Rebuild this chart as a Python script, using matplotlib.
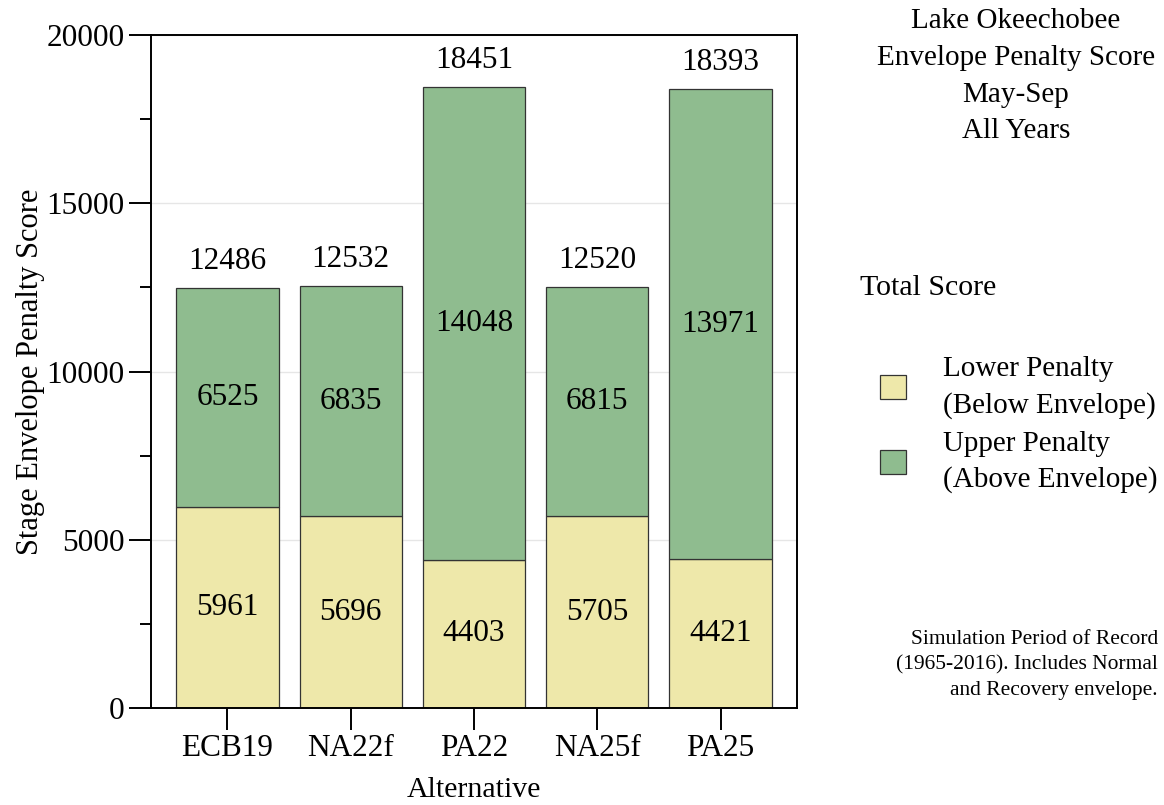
import numpy as np
import matplotlib
matplotlib.use("Agg")
from matplotlib import pyplot as plt
from matplotlib.patches import Patch
from matplotlib.ticker import MultipleLocator

alternatives = ["ECB19", "NA22f", "PA22", "NA25f", "PA25"]
lower_penalty = [5961, 5696, 4403, 5705, 4421]
upper_penalty = [6525, 6835, 14048, 6815, 13971]
totals = [12486, 12532, 18451, 12520, 18393]

yellow = "#EEE8AA"
green = "#8FBC8F"

plt.rcParams["font.family"] = ["Liberation Serif", "DejaVu Serif"]

fig = plt.figure(figsize=(11.64, 8.05), dpi=100)
ax = fig.add_axes([151 / 1164, 1 - 708 / 805, 646 / 1164, 673 / 805])

x = np.arange(len(alternatives))
ax.bar(x, lower_penalty, width=0.83, color=yellow, edgecolor="#333333", linewidth=0.9, zorder=2)
ax.bar(x, upper_penalty, width=0.83, bottom=lower_penalty, color=green,
       edgecolor="#333333", linewidth=0.9, zorder=2)

for i in range(len(x)):
    ax.text(x[i], lower_penalty[i] / 2, str(lower_penalty[i]), ha="center", va="center", fontsize=22.5, zorder=3)
    ax.text(x[i], lower_penalty[i] + upper_penalty[i] / 2, str(upper_penalty[i]),
            ha="center", va="center", fontsize=22.5, zorder=3)
    ax.annotate(str(totals[i]), (x[i], totals[i]), xytext=(0, 19), textcoords="offset points",
                ha="center", va="center", fontsize=22.5)

ax.set_xlim(-0.62, 4.62)
ax.set_ylim(0, 20000)
ax.yaxis.set_major_locator(MultipleLocator(5000))
ax.yaxis.set_minor_locator(MultipleLocator(2500))
ax.set_xticks(x)
ax.set_xticklabels(alternatives)
ax.tick_params(axis="both", which="major", length=15.5, width=1.4, labelsize=22.5, direction="out")
ax.tick_params(axis="y", which="minor", length=8, width=1.4)
ax.yaxis.grid(True, which="major", color="#e6e6e6", linewidth=1, zorder=0)
ax.set_axisbelow(True)
for s in ax.spines.values():
    s.set_linewidth(1.4)

ax.set_xlabel("Alternative", fontsize=21.5, labelpad=10)
ax.set_ylabel("Stage Envelope Penalty Score", fontsize=22, labelpad=1)

fig.text(1016 / 1164, 1 - 8 / 805, "Lake Okeechobee\nEnvelope Penalty Score\nMay-Sep\nAll Years",
         ha="center", va="top", fontsize=21, linespacing=1.54)

fig.text(860 / 1164, 1 - 288 / 805, "Total Score", ha="left", va="center", fontsize=21.5)

handles = [Patch(facecolor=yellow, edgecolor="#333333", linewidth=0.9),
           Patch(facecolor=green, edgecolor="#333333", linewidth=0.9)]
leg = fig.legend(handles, ["Lower Penalty\n(Below Envelope)", "Upper Penalty\n(Above Envelope)"],
                 loc="upper left", bbox_to_anchor=(880 / 1164, 1 - 356 / 805), frameon=False,
                 fontsize=21, handlelength=0.9, handleheight=0.9, handletextpad=1.25,
                 borderpad=0, borderaxespad=0, labelspacing=0.42)
for t in leg.get_texts():
    t.set_linespacing(1.47)

fig.text(1158 / 1164, 1 - 665 / 805,
         "Simulation Period of Record\n(1965-2016). Includes Normal\nand Recovery envelope.",
         ha="right", va="center", fontsize=15.5, linespacing=1.46)

fig.savefig("out.png", dpi=100)
